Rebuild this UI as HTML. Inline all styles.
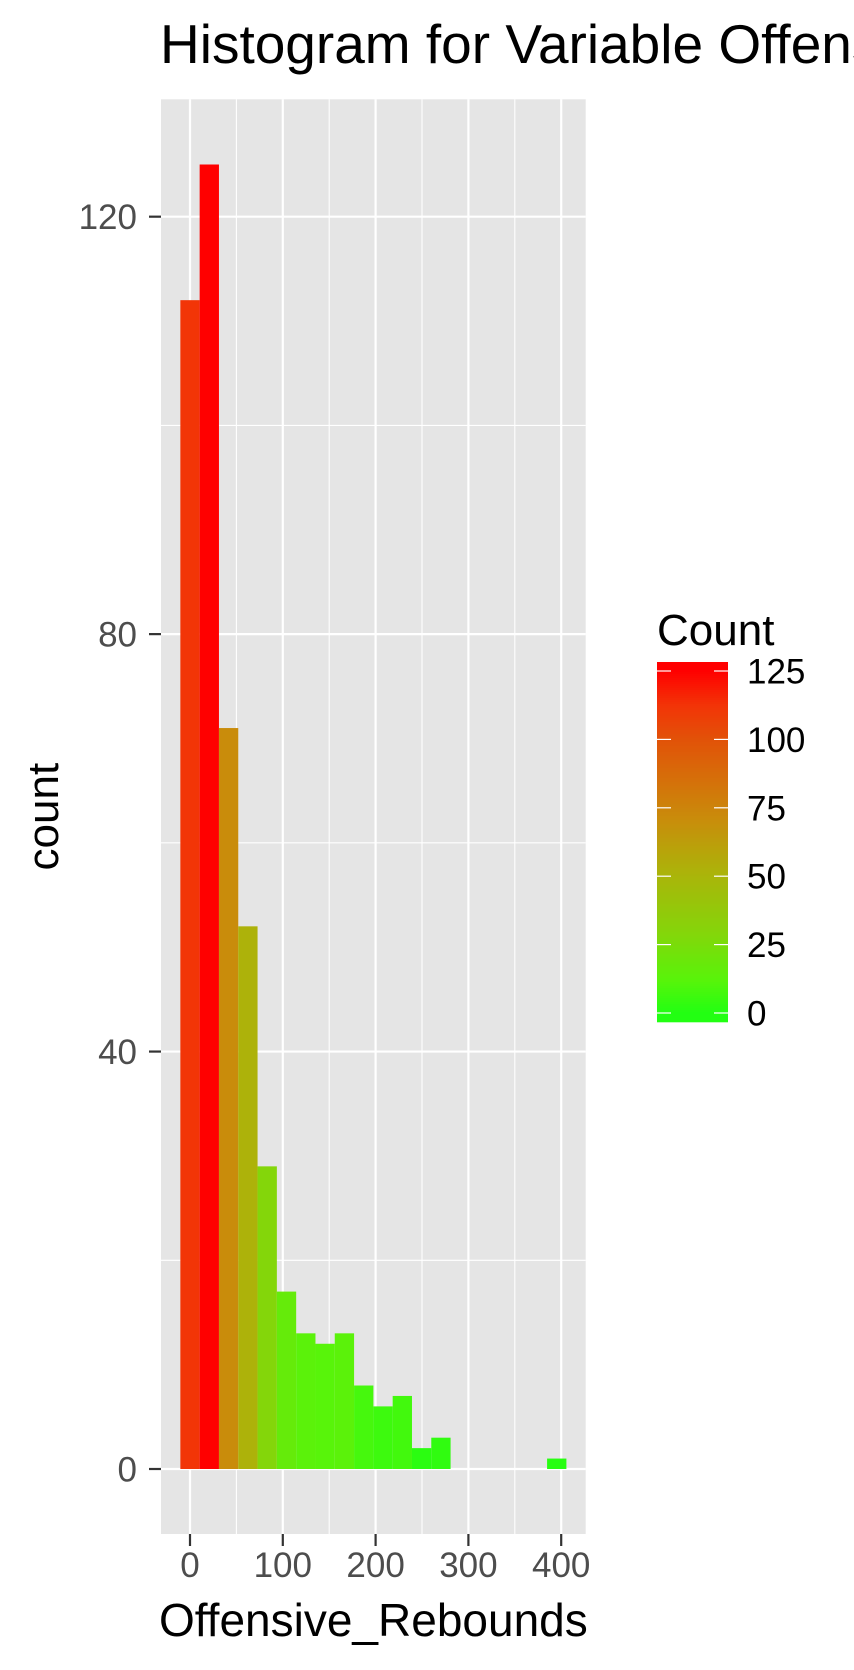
<!DOCTYPE html>
<html><head><meta charset="utf-8">
<style>
html,body{margin:0;padding:0;background:#fff;width:854px;height:1670px;overflow:hidden;}
svg{display:block;font-family:"Liberation Sans",Arial,sans-serif;}
</style></head>
<body>
<svg id="chart" width="854" height="1670" viewBox="0 0 854 1670">
  <text x="160" y="63" font-size="55" fill="#000">Histogram for Variable Offensive_Rebounds</text>
</svg>
<script>
const binWidth = 20.8;
const binIndex = [0,1,2,3,4,5,6,7,8,9,10,11,12,13,14,15,16,17,18,19];
const counts = [112,125,71,52,29,17,13,12,13,8,6,7,2,3,0,0,0,0,0,1];
const xTicks = [0,100,200,300,400];
const xMinor = [50,150,250,350];
const yTicks = [0,40,80,120];
const yMinor = [20,60,100];
const legendTicks = [0,25,50,75,100,125];

const NS = "http://www.w3.org/2000/svg";
const svg = document.getElementById('chart');
function mk(tag, attrs, parent){const e=document.createElementNS(NS,tag);for(const k in attrs)e.setAttribute(k,attrs[k]);(parent||svg).appendChild(e);return e;}

const P = {l:161, r:585.7, t:99.3, b:1534};
const xs = v => 190 + v*0.928;
const ys = v => 1469 - v*10.436;

// colour palette anchors sampled from the reference gradient
const palV = [0,12,29,52,71,100,112,125];
const palC = [[0x22,0xff,0x12],[0x58,0xf4,0x0a],[0x84,0xd6,0x0a],[0xad,0xb2,0x0a],[0xc9,0x8c,0x0b],[0xe2,0x52,0x08],[0xf2,0x35,0x07],[0xff,0x00,0x00]];
function col(v){
 v=Math.max(palV[0],Math.min(palV[palV.length-1],v));
 let i=0; while(i<palV.length-2 && v>palV[i+1]) i++;
 const t=(v-palV[i])/(palV[i+1]-palV[i]);
 const c=palC[i].map((a,j)=>Math.round(a+(palC[i+1][j]-a)*t));
 return `rgb(${c[0]},${c[1]},${c[2]})`;
}

// panel
const panel = mk('rect',{x:P.l,y:P.t,width:P.r-P.l,height:P.b-P.t,fill:'#e5e5e5'});


yMinor.forEach(v=>{const l=mk('line',{x1:P.l,x2:P.r,y1:ys(v),y2:ys(v),stroke:'#fff','stroke-width':1.1});
 
 });
xMinor.forEach(v=>{const l=mk('line',{x1:xs(v),x2:xs(v),y1:P.t,y2:P.b,stroke:'#fff','stroke-width':1.1});
 
 });
yTicks.forEach(v=>{const l=mk('line',{x1:P.l,x2:P.r,y1:ys(v),y2:ys(v),stroke:'#fff','stroke-width':2.2});
 
 });
xTicks.forEach(v=>{const l=mk('line',{x1:xs(v),x2:xs(v),y1:P.t,y2:P.b,stroke:'#fff','stroke-width':2.2});
 
 });

// bars
binIndex.forEach((k,i)=>{const c=counts[i]; if(c<=0) return;
 const x0=xs(k*binWidth-binWidth/2), x1=xs(k*binWidth+binWidth/2);
 const r=mk('rect',{x:x0,y:ys(c),width:x1-x0,height:ys(0)-ys(c),fill:col(c)});
 
 });

// axes ticks & labels
yTicks.forEach(v=>{const t=mk('line',{x1:149,x2:P.l,y1:ys(v),y2:ys(v),stroke:'#333','stroke-width':2.2});
 
 
 const tx=mk('text',{x:137,y:ys(v)+12.5,'text-anchor':'end','font-size':35,fill:'#4d4d4d'});
 tx.textContent=v;
 
 });
xTicks.forEach(v=>{const t=mk('line',{x1:xs(v),x2:xs(v),y1:P.b,y2:P.b+12,stroke:'#333','stroke-width':2.2});
 
 
 const tx=mk('text',{x:xs(v),y:P.b+43,'text-anchor':'middle','font-size':35,fill:'#4d4d4d'});
 tx.textContent=v;
 
 });

const xt=mk('text',{x:(P.l+P.r)/2,y:1636,'text-anchor':'middle','font-size':46,fill:'#000'});
xt.textContent='Offensive_Rebounds';


const yt=mk('text',{x:0,y:0,'text-anchor':'middle','font-size':44,fill:'#000',transform:`translate(58,${(P.t+P.b)/2}) rotate(-90)`});
yt.textContent='count';



// legend
const lg=mk('g',{});


const lt=mk('text',{x:657,y:645,'font-size':44,fill:'#000'},lg);
lt.textContent='Count';


const L={x:657,w:71,t:662,b:1022};
const ly=v=>1013-(v-0)*(1013-671)/125;
const lv=y=>(1013-y)*125/(1013-671);
for(let y=L.t;y<L.b;y+=2){mk('rect',{x:L.x,y:y,width:L.w,height:2.3,fill:col(lv(y+1))},lg);}
legendTicks.forEach(v=>{
 mk('line',{x1:L.x,x2:L.x+14,y1:ly(v),y2:ly(v),stroke:'#fff','stroke-width':1.2},lg);
 mk('line',{x1:L.x+L.w-14,x2:L.x+L.w,y1:ly(v),y2:ly(v),stroke:'#fff','stroke-width':1.2},lg);
 const tx=mk('text',{x:747,y:ly(v)+12.5,'font-size':35,fill:'#000'},lg);
 tx.textContent=v;
 
 
});
</script>
</body></html>
